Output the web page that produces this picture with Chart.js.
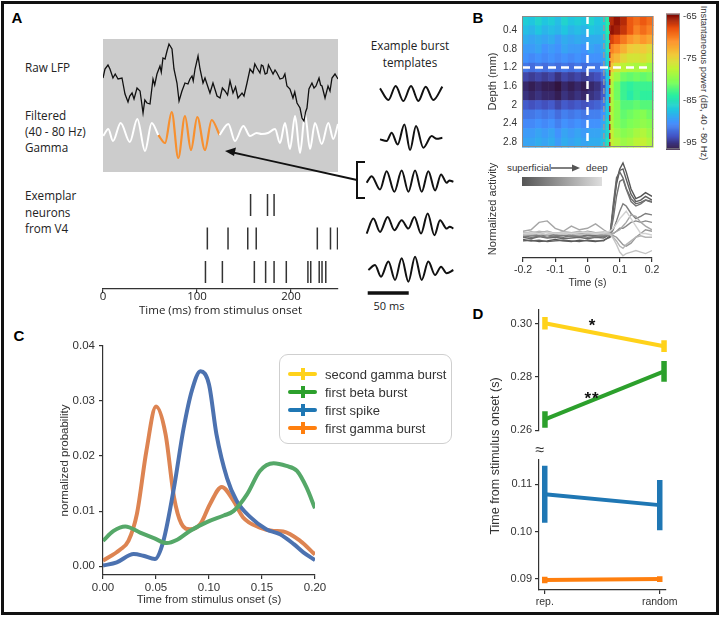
<!DOCTYPE html>
<html>
<head>
<meta charset="utf-8">
<title>Gamma burst timing</title>
<script src="https://cdn.jsdelivr.net/npm/chart.js@4.4.1/dist/chart.umd.min.js"></script>
<style>
  html, body { margin: 0; padding: 0; background: #fff; }
  #fig { position: relative; width: 720px; height: 617px; overflow: hidden; font-family: "Liberation Sans", Arial, sans-serif; color: #333; }
  #fig canvas { position: absolute; }
  .t { position: absolute; white-space: nowrap; line-height: 1; }
  .c { transform: translate(-50%, -50%); }
  .l { transform: translateY(-50%); }
  .rot { transform: translate(-50%, -50%) rotate(-90deg); }
  .rotr { transform: translate(-50%, -50%) rotate(90deg); }
  .panel { font-weight: bold; font-size: 15px; color: #000; }
  .os { font-family: "Open Sans", sans-serif; font-size: 11.7px; color: #222; }
  #frame { position: absolute; left: 1px; top: 1px; width: 718px; height: 614px; box-sizing: border-box; border: 3px solid #111; pointer-events: none; }
  #cleg { position: absolute; left: 279px; top: 354px; width: 173px; height: 90px; box-sizing: border-box; border: 1.5px solid #cfcfcf; border-radius: 9px; }
  .mk { position: absolute; }
</style>
</head>
<body>
<div id="fig">
  <div class="t c panel" style="left:17px;top:17px">A</div>
  <div class="t c panel" style="left:478px;top:17px">B</div>
  <div class="t c panel" style="left:19px;top:335px">C</div>
  <div class="t c panel" style="left:478px;top:313px">D</div>

  <div class="t l os" style="left:25px;top:68px">Raw LFP</div>
  <div class="t l os" style="left:25px;top:116px">Filtered</div>
  <div class="t l os" style="left:25px;top:132px">(40 - 80 Hz)</div>
  <div class="t l os" style="left:25px;top:148px">Gamma</div>
  <div class="t l os" style="left:25px;top:196px">Exemplar</div>
  <div class="t l os" style="left:25px;top:213px">neurons</div>
  <div class="t l os" style="left:25px;top:229px">from V4</div>
  <div class="t c os" style="left:410px;top:46px">Example burst</div>
  <div class="t c os" style="left:410px;top:63px">templates</div>
  <div class="t c os" style="left:389px;top:305px;font-size:11px">50 ms</div>

  <div class="t l" style="left:507px;top:168px;font-size:9.8px;color:#333">superficial</div>
  <div class="t l" style="left:586px;top:168px;font-size:9.8px;color:#333">deep</div>
  <div style="position:absolute;left:522px;top:177px;width:80px;height:9px;background:linear-gradient(to right,#555,#dedede)"></div>
  <div class="t rotr" style="left:703px;top:83px;font-size:9.3px;color:#333">Instantaneous power (dB, 40 - 80 Hz)</div>

  <div id="cleg"></div>

  <div class="t c" style="left:592px;top:325px;font-size:17px;font-weight:bold;color:#111">*</div>
  <div class="t c" style="left:592px;top:398px;font-size:17px;font-weight:bold;color:#111;letter-spacing:1px">**</div>
  <div class="t c" style="left:540px;top:450px;font-size:16px;color:#333">≈</div>
  <div class="t rot" style="left:495px;top:456px;font-size:12.5px;color:#333">Time from stimulus onset (s)</div>

  <svg style="position:absolute;left:0;top:0;pointer-events:none" width="720" height="617">
    <path d="M365,162 H357 V198 H365" fill="none" stroke="#111" stroke-width="2"/>
    <line x1="357" y1="180" x2="233" y2="152.5" stroke="#111" stroke-width="1.8"/>
    <polygon points="225,151 236,147.5 234,156" fill="#111"/>
    <line x1="551" y1="168" x2="573" y2="168" stroke="#555" stroke-width="1.5"/>
    <polygon points="580,168 572,164.5 572,171.5" fill="#555"/>
  </svg>
  <div id="frame"></div>
</div>

<script>
// ---------- panel A data ----------
const RAW_LFP = [[0,1.2],[2.1,2.1],[5.3,2.5],[7.4,2.1],[10.6,1.2],[13,1.6],[16,1.1],[20.2,1.2],[23.4,-0.4],[26.6,-1.2],
  [28.5,-0.6],[30.9,-0.3],[33,-0.9],[36.2,0.2],[39.4,-0.1],[42.6,-2.3],[44.5,-1.0],[46.8,-1.3],[50,-1.4],[53.2,1.1],
  [55,0.5],[57.4,1.6],[60.6,2.4],[62,1.8],[63.8,3.2],[66,3.1],[68.1,3.9],[70.2,4.6],[73.4,4.1],[75.5,2.1],[78.7,0.7],
  [80.9,-1.1],[84,-0.1],[87.2,0.7],[90.4,0.6],[92.5,1.1],[94.7,1.4],[96,0.9],[97.9,2.1],[101.1,3.4],[103.2,2.1],
  [106.4,0.7],[108.5,1.2],[110.6,0.6],[113.8,-0.3],[117,0.7],[119,0.1],[121.3,-0.6],[124.5,-0.8],[127,0.2],[129.8,-0.1],
  [132.5,-0.5],[135.1,0.9],[138.3,-0.3],[141,0.3],[143.6,-0.8],[147.9,-0.3],[150,-0.6],[153.2,0.7],[156.4,2.1],
  [159.6,1.7],[161.5,2.6],[163.8,2.2],[167,1.7],[168.5,2.5],[170.2,2.4],[172.5,1.6],[174.5,1.7],[176,2.5],[177.7,2.2],
  [180.9,1.6],[183,2.0],[185.1,1.7],[188.3,1.1],[191.5,1.2],[193.5,1.6],[195.7,0.4],[198.9,0.1],[202.1,-0.8],[204,-0.2],
  [206.4,-1.3],[209.6,-1.8],[211.7,-2.8],[213.8,-3.1],[215.5,-2.2],[217,-1.8],[219.1,0.1],[222.3,0.7],[224.5,0.2],
  [226.6,0.4],[229.8,1.2],[231.5,0.5],[233,0.4],[236.2,-0.8],[239.4,0.4],[241.5,-0.1],[243.6,1.2],[246.8,1.6],[250,1.1]];

// filtered 40-80 Hz trace, peaks and troughs (ms, value)
const GAMMA_PRE = [[0.3,-4.6],[5.6,-3.9],[10.6,-5.1],[18.8,-3.3],[28.5,-5.2],[36.5,-2.9],[44.7,-6.1],[51.8,-3.3],[58.8,-4.5]];
const GAMMA_BURST = [[58.8,-4.5],[66,-5.3],[73.1,-2.2],[80.1,-6.8],[87.2,-2.6],[93.6,-6.0],[100.3,-2.7],[108.5,-6.0],[115.6,-3.0],[124,-4.5]];
const GAMMA_POST = [[124,-4.5],[133.3,-3.4],[140.4,-5.1],[149.3,-3.6],[156.4,-4.6],[163.5,-4.3],[168.8,-4.4],[175.5,-4.3],
  [183,-3.9],[188.3,-5.3],[193.6,-3.3],[198.9,-5.9],[204.3,-2.6],[209.6,-6.3],[214.9,-2.4],[220.2,-5.9],[225.5,-3.3],
  [232.7,-5.4],[239.7,-3.3],[245,-4.9],[250,-3.4]];

// spike times (ms) of the three example neurons
const SPIKES = [
  [157, 175, 182],
  [111, 133, 154, 163, 228, 242, 249.5],
  [109, 127, 161, 173, 182, 195, 218, 221, 230, 233, 237]
];

// burst templates (ms, normalised amplitude)
const TEMPLATES = [
  [[30.5,0.67],[40.7,-1.0],[49.6,1.0],[58.9,-1.14],[68.3,1.0],[77.2,-1.14],[86.2,0.9],[95.5,-1.0],[106.5,0.9]],
  [[30.5,-0.33],[38.6,-0.57],[44.7,0.62],[52,-1.05],[60.2,1.81],[67.1,-1.86],[74.4,1.57],[83.3,-1.52],[93.5,0.14],[99.6,-0.24],[106.5,-0.1]],
  [[14.2,-0.23],[20.3,0.71],[30.5,-1.19],[38.6,1.43],[48,-1.52],[56.9,1.52],[65.1,-1.52],[73.2,1.52],[81.3,-1.52],[89.4,1.43],[97.6,-1.33],[104.9,0.95],[111.8,-0.23],[115,0.1],[119.9,-0.1]],
  [[14.2,-1.19],[22.4,0.95],[30.5,-0.95],[39.8,1.19],[48,-0.71],[56.9,0.71],[65.1,-0.48],[72.4,1.19],[80.5,-1.19],[88.6,1.67],[96.8,-1.43],[103.7,0.71],[111.8,-0.48],[115.5,-0.2],[119.9,-0.48]],
  [[16.3,-0.1],[24.4,0.62],[31.7,-1.05],[40.7,1.1],[48.8,-1.52],[56.9,1.57],[65.1,-1.76],[73.2,1.81],[81.3,-1.52],[89.4,1.1],[97.6,-0.81],[104.9,0.38],[111.8,-0.57],[119.9,-0.1]]
];
const SCALE_BAR_MS = [15.5, 65.5];

// ---------- panel B data ----------
const DEPTHS = [0.2, 0.4, 0.6, 0.8, 1.0, 1.2, 1.4, 1.6, 1.8, 2.0, 2.2, 2.4, 2.6, 2.8];
const TIME_EDGES = [-0.2,-0.18,-0.16,-0.14,-0.12,-0.1,-0.08,-0.06,-0.04,-0.02,0,0.02,0.04,0.055,0.068,0.08,0.1,0.12,0.14,0.16,0.18,0.2];
const POWER_DB = [
  [-86.5,-87,-86,-87,-86.5,-87.5,-86,-87,-86.5,-87,-86,-87,-86.5,-84,-66,-65,-66,-68,-69,-68,-69],
  [-87.5,-88,-87,-88,-87.5,-88,-87,-88,-87.5,-88,-87,-87.5,-87,-84,-65,-65.5,-66.5,-68,-70,-69,-70],
  [-88.5,-89,-88.5,-89,-88.5,-89.5,-88.5,-89,-88.5,-89,-88.5,-88.5,-88,-85,-67,-68,-69.5,-71,-72,-71,-72],
  [-89.5,-89.5,-89,-90,-89.5,-90,-89,-89.5,-89.5,-90,-89,-89.5,-88.5,-85,-70,-71,-72.5,-74,-74.5,-74,-75],
  [-90,-90.5,-90,-90.5,-90,-90.5,-90,-90.5,-90,-90.5,-90,-90,-89.5,-86,-72,-73,-75,-76,-76,-75.5,-76.5],
  [-91.5,-92,-91.5,-92,-91.5,-92,-91.5,-92,-91.5,-92,-91.5,-91.5,-90.5,-86,-74,-76,-77.5,-78,-78.5,-78,-79],
  [-94,-94.5,-94,-94.5,-94,-95,-94,-94.5,-94,-94.5,-94,-93.5,-92,-87,-77,-79,-81,-81.5,-81,-81.5,-81],
  [-95.5,-96,-95.5,-96,-96,-96.5,-95.5,-96,-95.5,-96,-95.5,-95,-93.5,-88,-78,-81,-83,-83.5,-83,-83,-83],
  [-95,-95.5,-95,-95.5,-95.5,-96,-95,-95.5,-95,-95.5,-95,-94.5,-93,-88,-78,-81,-83,-84,-83,-83.5,-83.5],
  [-93,-93.5,-93,-93.5,-93,-94,-93,-93.5,-93,-93.5,-93,-92.5,-91.5,-87,-78,-80,-82,-82,-81.5,-82,-82],
  [-91.5,-91.5,-91,-91.5,-91,-92,-91,-91.5,-91,-91.5,-91,-91,-90,-87,-78,-80,-81.5,-81,-80.5,-80,-81],
  [-90.5,-90.5,-90,-90.5,-90,-91,-90,-90.5,-90,-90.5,-90,-90,-89,-86,-78,-80,-81,-80.5,-80,-79.5,-80],
  [-89.5,-89.5,-89,-89.5,-89,-90,-89,-89.5,-89,-89.5,-89,-89,-88,-86,-77,-79,-80,-79.5,-78.5,-78,-79],
  [-89,-89,-88.5,-89,-88.5,-89.5,-88.5,-89,-88.5,-89,-88.5,-88.5,-87.5,-85,-77,-78,-79,-78.5,-77.5,-77,-78]
];
const CB_MIN = -96.6, CB_MAX = -64.3;
const CB_TICKS = [-65, -75, -85, -95];
const DEPTH_TICKS = [0.4, 0.8, 1.2, 1.6, 2.0, 2.4, 2.8];
const MARK_TIMES = { onset: 0, gray: 0.05, red: 0.068 };
const MARK_DEPTH = 1.2;

// normalised activity, superficial (dark) to deep (light)
const ACT_T = [-0.2,-0.175,-0.15,-0.125,-0.1,-0.075,-0.05,-0.025,0,0.025,0.05,0.07,0.08,0.09,0.1,0.11,0.12,0.135,0.15,0.165,0.18,0.2];
const ACTIVITY = [
  [-0.05,-0.04,-0.06,-0.05,-0.03,-0.05,-0.06,-0.04,-0.05,-0.06,-0.04,0,0.4,0.75,0.92,1.0,0.88,0.65,0.52,0.55,0.6,0.55],
  [-0.03,-0.05,-0.04,-0.06,-0.05,-0.04,-0.05,-0.06,-0.04,-0.05,-0.05,0.02,0.38,0.72,0.9,0.92,0.78,0.58,0.48,0.5,0.55,0.5],
  [0,-0.02,0.01,-0.01,0,-0.02,-0.01,0,-0.02,0,-0.01,0.04,0.45,0.8,0.88,0.8,0.66,0.52,0.45,0.47,0.5,0.47],
  [0.02,0,0.01,0.03,0.01,0,0.02,0.01,0.03,0.02,0.01,0.04,0.25,0.55,0.75,0.78,0.65,0.48,0.42,0.45,0.5,0.48],
  [0.01,0.03,0.02,0,0.02,0.03,0.01,0.02,0,0.01,0.02,0.03,0.1,0.22,0.35,0.45,0.42,0.32,0.25,0.28,0.32,0.3],
  [0.04,0.02,0.05,0.03,0.04,0.06,0.03,0.05,0.04,0.05,0.03,0.04,0.05,0.08,0.12,0.12,0.15,0.2,0.22,0.2,0.22,0.2],
  [0.05,0.07,0.06,0.08,0.05,0.07,0.06,0.05,0.08,0.06,0.05,0.03,0.02,0,-0.05,-0.1,-0.12,-0.08,0,0.05,0.1,0.08],
  [0.08,0.1,0.2,0.22,0.12,0.08,0.15,0.1,0.12,0.18,0.1,0.05,0.05,0.08,0.1,0.15,0.2,0.3,0.28,0.2,0.15,0.1],
  [0.06,0.05,0.08,0.06,0.05,0.07,0.06,0.08,0.05,0.06,0.07,0.05,0,-0.05,-0.12,-0.15,-0.1,-0.05,0,0.02,0,0],
  [0.03,0.04,0.05,0.03,0.06,0.04,0.05,0.03,0.05,0.04,0.05,0.04,-0.02,-0.1,-0.2,-0.25,-0.22,-0.2,-0.18,-0.2,-0.22,-0.18],
  [0.05,0.06,0.05,0.07,0.05,0.06,0.05,0.06,0.07,0.05,0.06,0.08,0.12,0.18,0.25,0.3,0.35,0.25,0.15,0.05,0.05,0.03]
];
const ACT_COLORS = ['#555','#5e5e5e','#686868','#727272','#7e7e7e','#8a8a8a','#989898','#a6a6a6','#b4b4b4','#c4c4c4','#d2d2d2'];

// ---------- panel C data (time s, probability) ----------
const BETA_DENSITY = [[0,0.0046],[0.01,0.0064],[0.021,0.0072],[0.035,0.0061],[0.048,0.0051],[0.06,0.0042],[0.07,0.0048],
  [0.082,0.0064],[0.098,0.008],[0.114,0.0092],[0.123,0.010],[0.136,0.0131],[0.148,0.0173],[0.161,0.0187],[0.173,0.0182],
  [0.183,0.0173],[0.192,0.0143],[0.2,0.0105]];
const SPIKE_DENSITY = [[0,0.0001],[0.013,0.0007],[0.029,0.0022],[0.038,0.0019],[0.049,0.0013],[0.057,0.0046],[0.067,0.0143],
  [0.076,0.025],[0.084,0.032],[0.092,0.0354],[0.1,0.033],[0.107,0.024],[0.117,0.016],[0.126,0.0119],[0.139,0.0089],
  [0.154,0.0067],[0.167,0.0058],[0.18,0.004],[0.189,0.0025],[0.2,0.0011]];
const GAMMA_DENSITY = [[0,0.001],[0.016,0.003],[0.024,0.0046],[0.032,0.0095],[0.041,0.021],[0.05,0.029],[0.059,0.024],
  [0.067,0.0125],[0.074,0.0077],[0.082,0.0067],[0.092,0.0077],[0.101,0.0113],[0.112,0.0144],[0.123,0.0119],[0.132,0.0089],
  [0.148,0.007],[0.161,0.0064],[0.17,0.0063],[0.186,0.0046],[0.2,0.0021]];
const C_Y_TICKS = [0, 0.01, 0.02, 0.03, 0.04];
const C_X_TICKS = [0, 0.05, 0.1, 0.15, 0.2];

// ---------- panel D data ----------
const D_SERIES = ['second gamma burst', 'first beta burst', 'first spike', 'first gamma burst'];
const D_COLORS = ['#ffd21a', '#2ca02c', '#1f77b4', '#ff7f0e'];
const D_CONDITIONS = ['rep.', 'random'];
const D_REP = [0.3001, 0.2641, 0.1079, 0.0898];
const D_RANDOM = [0.2915, 0.2821, 0.1056, 0.0900];
const D_REP_ERR = [0.0023, 0.0031, 0.0060, 0.0007];
const D_RANDOM_ERR = [0.0022, 0.0039, 0.0053, 0.0006];

// ---------- helpers ----------
Chart.defaults.font.family = '"Liberation Sans", Arial, sans-serif';
Chart.defaults.color = '#333';
Chart.defaults.plugins.legend.display = false;
Chart.defaults.plugins.tooltip.enabled = false;
Chart.defaults.elements.point.radius = 0;
Chart.defaults.elements.line.fill = false;

const fig = document.getElementById('fig');
const toXY = (pairs) => pairs.map(([x, y]) => ({ x, y }));

function makeChart(left, top, width, height, config, bg) {
  const c = document.createElement('canvas');
  c.width = width;
  c.height = height;
  c.style.left = left + 'px';
  c.style.top = top + 'px';
  c.style.width = width + 'px';
  c.style.height = height + 'px';
  if (bg) c.style.background = bg;
  fig.insertBefore(c, document.getElementById('cleg'));
  config.options = Object.assign({ responsive: false, animation: false, devicePixelRatio: 1, events: [] }, config.options);
  return new Chart(c.getContext('2d'), config);
}

const fixTicks = (vals) => (s) => { s.ticks = vals.map((v) => ({ value: v })); };
const axisLine = { display: true, color: '#333', width: 1.2 };
const tickMarks = { display: true, drawOnChartArea: false, drawTicks: true, tickLength: 4, color: '#333', lineWidth: 1.2 };

const TURBO = [[48,18,59],[68,84,196],[68,144,254],[31,200,222],[41,239,162],[125,255,86],[193,243,52],[241,202,58],[254,146,42],[234,79,13],[122,4,3]];
function turbo(v) {
  const t = Math.max(0, Math.min(1, (v - CB_MIN) / (CB_MAX - CB_MIN)));
  const n = TURBO.length - 1;
  const i = Math.min(n - 1, Math.floor(t * n));
  const f = t * n - i;
  const a = TURBO[i], b = TURBO[i + 1];
  return `rgb(${Math.round(a[0] + (b[0] - a[0]) * f)},${Math.round(a[1] + (b[1] - a[1]) * f)},${Math.round(a[2] + (b[2] - a[2]) * f)})`;
}

// ---------- A: LFP ----------
makeChart(103, 39, 235, 133, {
  type: 'line',
  data: { datasets: [
    { data: toXY(RAW_LFP), borderColor: '#111', borderWidth: 1.3 },
    { data: toXY(GAMMA_PRE), borderColor: '#fff', borderWidth: 2, cubicInterpolationMode: 'monotone' },
    { data: toXY(GAMMA_POST), borderColor: '#fff', borderWidth: 2, cubicInterpolationMode: 'monotone' },
    { data: toXY(GAMMA_BURST), borderColor: '#f7902f', borderWidth: 2.2, cubicInterpolationMode: 'monotone' }
  ] },
  options: {
    layout: { padding: 0 },
    scales: { x: { type: 'linear', display: false, min: 0, max: 250 }, y: { display: false, min: -8.2, max: 5.1 } }
  }
}, '#cccccc');

// ---------- A: raster ----------
makeChart(53, 176, 335, 149, {
  type: 'scatter',
  data: { datasets: SPIKES.map((row, i) => ({
    data: row.map((t) => ({ x: t, y: i + 1 })),
    pointStyle: 'line', rotation: 90, pointRadius: 11, borderColor: '#333', borderWidth: 1.5
  })) },
  options: {
    layout: { padding: { left: 50, right: 50, top: 2, bottom: 0 } },
    scales: {
      x: { type: 'linear', min: 0, max: 250, afterBuildTicks: fixTicks([0, 100, 200]),
        afterFit: (s) => { s.height = 36; },
        border: axisLine, grid: tickMarks,
        ticks: { padding: -3, font: { family: '"Open Sans", sans-serif', size: 11.5 }, color: '#222' },
        title: { display: true, text: 'Time (ms) from stimulus onset', font: { family: '"Open Sans", sans-serif', size: 11.5 }, color: '#222', padding: { top: 0, bottom: 7 } } },
      y: { display: false, reverse: true, min: 0.51, max: 3.51 }
    }
  }
});

// ---------- A: burst templates ----------
const templateSets = TEMPLATES.map((tpl, row) => ({
  data: tpl.map(([t, a]) => ({ x: t, y: a - row * 6.3 })),
  borderColor: '#111', borderWidth: 2, cubicInterpolationMode: 'monotone'
}));
templateSets.push({ data: SCALE_BAR_MS.map((t) => ({ x: t, y: -28.6 })), borderColor: '#111', borderWidth: 3.5 });
makeChart(355, 75, 110, 230, {
  type: 'line',
  data: { datasets: templateSets },
  options: {
    layout: { padding: 0 },
    scales: { x: { type: 'linear', display: false, min: 0, max: 134.1 }, y: { display: false, min: -30.3, max: 2.57 } }
  }
});

// ---------- B: heatmap ----------
const heatmapPlugin = {
  id: 'heatmap',
  beforeDatasetsDraw(chart) {
    const { ctx, scales: { x, y } } = chart;
    POWER_DB.forEach((row, r) => {
      const ya = y.getPixelForValue(DEPTHS[r] - 0.1), yb = y.getPixelForValue(DEPTHS[r] + 0.1);
      row.forEach((v, c) => {
        const xa = x.getPixelForValue(TIME_EDGES[c]), xb = x.getPixelForValue(TIME_EDGES[c + 1]);
        ctx.fillStyle = turbo(v);
        ctx.fillRect(xa, Math.min(ya, yb), xb - xa + 0.6, Math.abs(yb - ya) + 0.6);
      });
    });
  },
  afterDatasetsDraw(chart) {
    const { ctx, chartArea: a } = chart;
    ctx.save();
    ctx.strokeStyle = '#8a8a8a';
    ctx.lineWidth = 1;
    ctx.strokeRect(a.left + 0.5, a.top + 0.5, a.right - a.left - 1, a.bottom - a.top - 1);
    ctx.restore();
  }
};
makeChart(480, 5, 185, 153, {
  type: 'line',
  data: { datasets: [
    { data: [{ x: -0.2, y: MARK_DEPTH }, { x: 0.2, y: MARK_DEPTH }], borderColor: '#fff', borderWidth: 2.5, borderDash: [8, 5] },
    { data: [{ x: MARK_TIMES.onset, y: 0.1 }, { x: MARK_TIMES.onset, y: 2.9 }], borderColor: '#fff', borderWidth: 2.5, borderDash: [8, 5] },
    { data: [{ x: MARK_TIMES.gray, y: 0.1 }, { x: MARK_TIMES.gray, y: 2.9 }], borderColor: '#9a9a9a', borderWidth: 1.5, borderDash: [6, 3] },
    { data: [{ x: MARK_TIMES.red, y: 0.1 }, { x: MARK_TIMES.red, y: 2.9 }], borderColor: '#b0302a', borderWidth: 1.5, borderDash: [6, 3] }
  ] },
  options: {
    layout: { padding: { top: 6, right: 12, bottom: 5, left: 0 } },
    scales: {
      x: { type: 'linear', display: false, min: -0.2, max: 0.2 },
      y: { reverse: true, min: 0.1, max: 2.9, afterBuildTicks: fixTicks(DEPTH_TICKS),
        afterFit: (s) => { s.width = 42; },
        border: { display: false }, grid: { display: false, drawTicks: false },
        ticks: { padding: 5, font: { size: 10 }, callback: (v) => String(v) },
        title: { display: true, text: 'Depth (mm)', font: { size: 11 }, padding: { top: 6, bottom: 0 } } }
    }
  },
  plugins: [heatmapPlugin]
});

// ---------- B: colour bar (title is the rotated text above) ----------
const colorbarPlugin = {
  id: 'colorbar',
  beforeDatasetsDraw(chart) {
    const { ctx, chartArea: a, scales: { y } } = chart;
    for (let v = CB_MIN; v < CB_MAX; v += 0.25) {
      const ya = y.getPixelForValue(v), yb = y.getPixelForValue(Math.min(CB_MAX, v + 0.25));
      ctx.fillStyle = turbo(v + 0.125);
      ctx.fillRect(a.left, yb, a.right - a.left, ya - yb + 0.6);
    }
    ctx.save();
    ctx.strokeStyle = '#8a8a8a';
    ctx.strokeRect(a.left + 0.5, a.top + 0.5, a.right - a.left - 1, a.bottom - a.top - 1);
    ctx.restore();
  }
};
makeChart(660, 5, 40, 153, {
  type: 'scatter',
  data: { datasets: [] },
  options: {
    layout: { padding: { left: 6, top: 6, bottom: 5, right: 0 } },
    scales: {
      x: { display: false, min: 0, max: 1 },
      y: { position: 'right', min: CB_MIN, max: CB_MAX, afterBuildTicks: fixTicks(CB_TICKS),
        afterFit: (s) => { s.width = 20; },
        border: { display: false }, grid: { display: false, drawTicks: false },
        ticks: { padding: 3, font: { size: 9.5 } } }
    }
  },
  plugins: [colorbarPlugin]
});

// ---------- B: activity traces ----------
makeChart(480, 158, 185, 135, {
  type: 'line',
  data: { datasets: ACTIVITY.map((vals, i) => ({
    data: vals.map((v, k) => ({ x: ACT_T[k], y: v })),
    borderColor: ACT_COLORS[i], borderWidth: 1.4
  })).reverse() },
  options: {
    layout: { padding: { top: 2, right: 13, bottom: 0, left: 0 } },
    scales: {
      x: { type: 'linear', min: -0.2, max: 0.2, afterBuildTicks: fixTicks([-0.2, -0.1, 0, 0.1, 0.2]),
        afterFit: (s) => { s.height = 35; },
        border: axisLine, grid: tickMarks,
        ticks: { padding: 2, font: { size: 10.5 }, callback: (v) => String(v) },
        title: { display: true, text: 'Time (s)', font: { size: 10.5 }, padding: { top: 0, bottom: 4 } } },
      y: { min: -0.28, max: 1.04,
        afterFit: (s) => { s.width = 43; },
        border: { display: false }, grid: { display: false, drawTicks: false }, ticks: { display: false },
        title: { display: true, text: 'Normalized activity', font: { size: 11 }, padding: { top: 6, bottom: 0 } } }
    }
  }
});

// ---------- C: densities ----------
makeChart(52, 335, 278, 276, {
  type: 'line',
  data: { datasets: [
    { data: toXY(BETA_DENSITY), borderColor: '#55a868', borderWidth: 4, cubicInterpolationMode: 'monotone' },
    { data: toXY(SPIKE_DENSITY), borderColor: '#4c72b0', borderWidth: 4, cubicInterpolationMode: 'monotone' },
    { data: toXY(GAMMA_DENSITY), borderColor: '#dd8452', borderWidth: 4, cubicInterpolationMode: 'monotone' }
  ] },
  options: {
    layout: { padding: { top: 9, right: 15, bottom: 0, left: 0 } },
    scales: {
      x: { type: 'linear', min: 0, max: 0.2, afterBuildTicks: fixTicks(C_X_TICKS),
        afterFit: (s) => { s.height = 36; },
        border: axisLine, grid: tickMarks,
        ticks: { padding: 2, font: { size: 11.5 }, callback: (v) => v.toFixed(2) },
        title: { display: true, text: 'Time from stimulus onset (s)', font: { size: 11.5 }, padding: { top: 0, bottom: 4 } } },
      y: { min: -0.0016, max: 0.04, afterBuildTicks: fixTicks(C_Y_TICKS),
        afterFit: (s) => { s.width = 51; },
        border: axisLine, grid: tickMarks,
        ticks: { padding: 4, font: { size: 11.5 }, callback: (v) => v.toFixed(2) },
        title: { display: true, text: 'normalized probability', font: { size: 11.5 }, padding: { top: 6, bottom: 0 } } }
    }
  }
});

// legend shared by C and D
const leg = document.getElementById('cleg');
D_SERIES.forEach((name, i) => {
  const cy = 18.5 + i * 18;
  const h = document.createElement('div');
  h.className = 'mk';
  h.style.cssText = `left:8px;top:${cy - 2}px;width:29px;height:4px;background:${D_COLORS[i]};border-radius:2px`;
  const v = document.createElement('div');
  v.className = 'mk';
  v.style.cssText = `left:21px;top:${cy - 6}px;width:4px;height:12px;background:${D_COLORS[i]}`;
  const t = document.createElement('div');
  t.className = 't l';
  t.style.cssText = `left:45px;top:${cy}px;font-size:13px;color:#333`;
  t.textContent = name;
  leg.append(h, v, t);
});

// ---------- D: broken-axis error bars ----------
function dDatasets(idx) {
  const ds = [];
  idx.forEach((i) => {
    ds.push({ data: [{ x: 0, y: D_REP[i] }, { x: 1, y: D_RANDOM[i] }], borderColor: D_COLORS[i], borderWidth: 4 });
    ds.push({ data: [{ x: 0, y: D_REP[i] - D_REP_ERR[i] }, { x: 0, y: D_REP[i] + D_REP_ERR[i] }], borderColor: D_COLORS[i], borderWidth: 5.5 });
    ds.push({ data: [{ x: 1, y: D_RANDOM[i] - D_RANDOM_ERR[i] }, { x: 1, y: D_RANDOM[i] + D_RANDOM_ERR[i] }], borderColor: D_COLORS[i], borderWidth: 5.5 });
  });
  return ds;
}
const dYTicks = { padding: 3, font: { size: 11 }, callback: (v) => v.toFixed(2) };

makeChart(480, 300, 200, 140, {
  type: 'line',
  data: { datasets: dDatasets([0, 1]) },
  options: {
    layout: { padding: { top: 7, right: 10, bottom: 3, left: 0 } },
    scales: {
      x: { type: 'linear', display: false, min: -0.05, max: 1.05 },
      y: { min: 0.26, max: 0.3052, afterBuildTicks: fixTicks([0.26, 0.28, 0.30]),
        afterFit: (s) => { s.width = 59; },
        border: axisLine, grid: tickMarks, ticks: dYTicks }
    }
  }
});

makeChart(480, 450, 200, 165, {
  type: 'line',
  data: { datasets: dDatasets([2, 3]) },
  options: {
    layout: { padding: { top: 7, right: 10, bottom: 0, left: 0 } },
    scales: {
      x: { type: 'linear', min: -0.05, max: 1.05, afterBuildTicks: fixTicks([0, 1]),
        afterFit: (s) => { s.height = 25; },
        border: axisLine, grid: tickMarks,
        ticks: { padding: 2, font: { size: 10.5 }, callback: (v) => D_CONDITIONS[v] } },
      y: { min: 0.0877, max: 0.1152, afterBuildTicks: fixTicks([0.09, 0.10, 0.11]),
        afterFit: (s) => { s.width = 59; },
        border: axisLine, grid: tickMarks, ticks: dYTicks }
    }
  }
});
</script>
</body>
</html>
